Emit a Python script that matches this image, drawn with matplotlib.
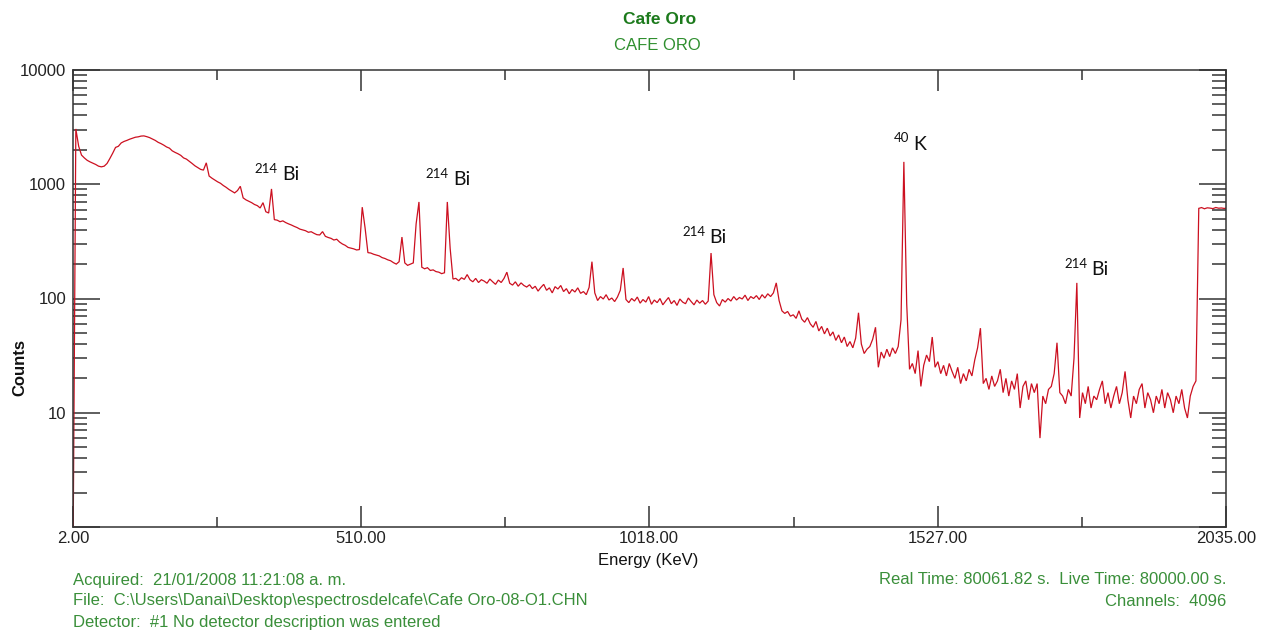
import numpy as np
import matplotlib
matplotlib.use("Agg")
import matplotlib.pyplot as plt
from matplotlib.ticker import FixedLocator, NullFormatter

# ---------------- data ----------------
energy_start = 2.0      # keV of first plotted channel group
energy_step = 5.0       # keV between plotted points
counts = [
    0.5, 3050, 2150, 1800, 1700, 1620, 1570, 1530, 1490, 1440,
    1420, 1440, 1520, 1680, 1870, 2100, 2150, 2300, 2370, 2420,
    2480, 2530, 2580, 2600, 2640, 2650, 2610, 2560, 2490, 2420,
    2330, 2270, 2200, 2120, 2070, 1960, 1900, 1850, 1790, 1700,
    1660, 1590, 1520, 1450, 1400, 1350, 1330, 1540, 1180, 1130,
    1090, 1050, 1020, 975, 940, 900, 870, 840, 880, 960,
    760, 730, 710, 690, 665, 650, 620, 690, 575, 560,
    910, 490, 485, 470, 478, 462, 450, 440, 428, 418,
    405, 398, 392, 380, 384, 372, 362, 360, 385, 350,
    342, 336, 325, 330, 312, 300, 292, 280, 276, 272,
    266, 268, 630, 415, 252, 250, 244, 240, 236, 228,
    224, 218, 214, 206, 200, 210, 345, 205, 195, 200,
    205, 450, 700, 188, 182, 186, 176, 178, 172, 170,
    165, 168, 700, 275, 148, 150, 143, 152, 147, 162,
    146, 140, 150, 138, 146, 142, 136, 148, 140, 133,
    145, 138, 150, 170, 136, 131, 140, 128, 137, 130,
    126, 132, 122, 128, 116, 125, 133, 118, 124, 112,
    127, 121, 130, 115, 122, 110, 120, 114, 124, 111,
    115, 108, 125, 210, 112, 96, 104, 99, 108, 97,
    101, 94, 103, 118, 185, 98, 92, 100, 95, 103,
    91, 98, 93, 104, 89, 97, 92, 100, 88, 95,
    102, 90, 96, 87, 99, 93, 90, 101, 94, 88,
    97, 91, 96, 89, 95, 250, 108, 92, 86, 98,
    93, 100, 95, 104, 97, 102, 99, 107, 96, 104,
    100, 106, 98, 108, 101, 110, 104, 112, 137, 96,
    78, 74, 77, 70, 72, 67, 78, 66, 62, 68,
    60, 56, 63, 52, 57, 49, 55, 47, 51, 43,
    48, 41, 46, 38, 42, 37, 45, 75, 40, 33,
    36, 38, 44, 56, 25, 34, 30, 36, 31, 37,
    33, 38, 65, 1570, 90, 24, 27, 22, 35, 17,
    26, 32, 28, 46, 25, 28, 22, 26, 21, 27,
    23, 20, 25, 18, 22, 19, 24, 21, 29, 37,
    55, 18, 20, 16, 21, 17, 19, 24, 15, 20,
    14, 19, 16, 22, 11, 17, 19, 13, 18, 15,
    18, 6, 14, 12, 16, 17, 22, 41, 15, 14,
    12, 16, 14, 30, 137, 9, 15, 12, 17, 11,
    14, 13, 16, 19, 12, 15, 11, 14, 17, 12,
    15, 23, 13, 9, 14, 12, 16, 18, 11, 15,
    13, 10, 14, 12, 16, 11, 15, 13, 10, 14,
    12, 16, 11, 9, 14, 17, 19, 615, 625, 610,
    622, 618, 612, 626, 617, 620, 614, 621,
]

x_ticks = [2.00, 510.00, 1018.00, 1527.00, 2035.00]
x_ticklabels = ["2.00", "510.00", "1018.00", "1527.00", "2035.00"]
x_minor = [256.0, 764.0, 1272.5, 1781.0]
y_ticks = [1, 10, 100, 1000, 10000]
y_ticklabels = ["", "10", "100", "1000", "10000"]

peak_sup = ["214", "214", "214", "40", "214"]
peak_name = ["Bi", "Bi", "Bi", "K", "Bi"]
peak_label_energy = [367, 668, 1121, 1480, 1794]
peak_label_counts = [1205, 1090, 339, 2250, 178]

title_main = "Cafe Oro"
title_sub = "CAFE ORO"
footer_left = ["Acquired:  21/01/2008 11:21:08 a. m.",
               "File:  C:\\Users\\Danai\\Desktop\\espectrosdelcafe\\Cafe Oro-08-O1.CHN",
               "Detector:  #1 No detector description was entered"]
footer_right = ["Real Time: 80061.82 s.  Live Time: 80000.00 s.",
                "Channels:  4096"]

# ---------------- figure ----------------
plt.rcParams['font.family'] = ['Liberation Sans', 'DejaVu Sans']

energies = energy_start + energy_step * np.arange(len(counts))

W, H = 1266, 633
fig = plt.figure(figsize=(W / 100, H / 100), dpi=100)
fig.patch.set_facecolor('white')
ax = fig.add_axes([73 / W, 1 - 527 / H, (1226 - 73) / W, (527 - 70) / H])

ax.plot(energies, counts, color='#cc1020', lw=0.9, solid_joinstyle='miter')

ax.set_yscale('log')
ax.set_xlim(2, 2035)
ax.set_ylim(1, 10000)

spine_col = '#333333'
for s in ax.spines.values():
    s.set_color(spine_col)
    s.set_linewidth(1.1)

ax.set_xticks(x_ticks)
ax.set_xticklabels(x_ticklabels)
ax.xaxis.set_minor_locator(FixedLocator(x_minor))
ax.set_yticks(y_ticks)
ax.set_yticklabels(y_ticklabels)
y_minor = [m * 10 ** d for d in range(0, 4) for m in range(2, 10)]
ax.yaxis.set_minor_locator(FixedLocator(y_minor))
ax.yaxis.set_minor_formatter(NullFormatter())

ax.tick_params(axis='both', which='both', direction='in', top=True, right=True,
               color=spine_col, width=1.1, labelsize=12, labelcolor='#222222')
ax.tick_params(axis='x', which='major', length=15, pad=3)
ax.tick_params(axis='x', which='minor', length=7.5)
ax.tick_params(axis='y', which='major', length=19.5, pad=5)
ax.tick_params(axis='y', which='minor', length=10)

# peak labels
for sup, name, e, c in zip(peak_sup, peak_name, peak_label_energy, peak_label_counts):
    ax.annotate(name, (e, c), xytext=(1.5, 0), textcoords='offset points',
                ha='left', va='center', fontsize=14, family=['Lato', 'DejaVu Sans'],
                color='#111111')
    ax.annotate(sup, (e, c), xytext=(-1.5, 4), textcoords='offset points',
                ha='right', va='center', fontsize=9.5, family=['Lato', 'DejaVu Sans'],
                color='#111111')

# titles
fig.text(660 / W, 1 - 20 / H, title_main, ha='center', va='center',
         fontsize=12.5, fontweight='bold', color='#1c7a1c')
fig.text(657 / W, 1 - 45 / H, title_sub, ha='center', va='center',
         fontsize=12, color='#2f8f2f')

# axis labels
fig.text(20 / W, 1 - 367 / H, "Counts", rotation=90, ha='center', va='center',
         fontsize=12, fontweight='bold', color='#111111')
fig.text(648 / W, 1 - 560 / H, "Energy (KeV)", ha='center', va='center',
         fontsize=12, color='#111111')

# footer
for k, t in enumerate(footer_left):
    fig.text(73 / W, 1 - (580 + 21 * k) / H, t, ha='left', va='center',
             fontsize=12, color='#3a8f3a')
for k, t in enumerate(footer_right):
    fig.text(1226 / W, 1 - (580 + 21 * k) / H, t, ha='right', va='center',
             fontsize=12, color='#3a8f3a')

fig.savefig('out.png', dpi=100, facecolor='white')
